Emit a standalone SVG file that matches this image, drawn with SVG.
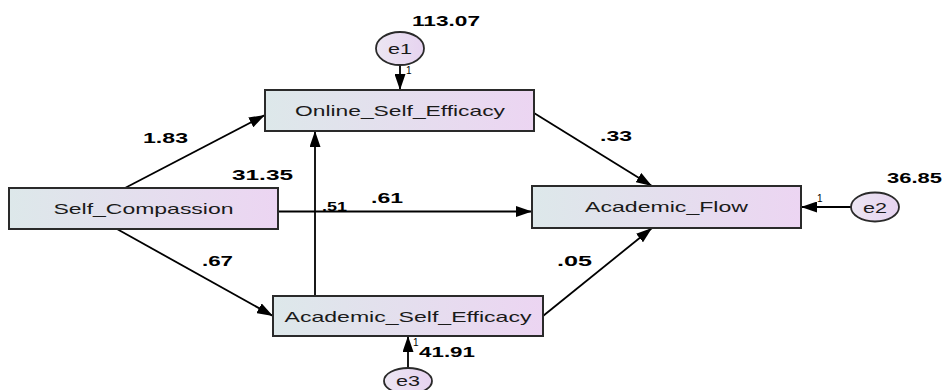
<svg xmlns="http://www.w3.org/2000/svg" width="942" height="390" viewBox="0 0 942 390">
<defs>
<linearGradient id="boxfill" x1="0" y1="0" x2="1" y2="0">
<stop offset="0" stop-color="#dde8ea"/>
<stop offset="1" stop-color="#ecd5f2"/>
</linearGradient>
<linearGradient id="ellfill" x1="0" y1="0" x2="1" y2="0">
<stop offset="0" stop-color="#ece6f2"/>
<stop offset="1" stop-color="#e6d3f0"/>
</linearGradient>
<marker id="arr" markerUnits="userSpaceOnUse" markerWidth="17" markerHeight="11" refX="16" refY="5.5" orient="auto">
<path d="M0,0 L16,5.5 L0,11 z" fill="#000"/>
</marker>
</defs>
<style>
.box{fill:url(#boxfill);stroke:#2a2a2a;stroke-width:2}
.ell{fill:url(#ellfill);stroke:#2a2a2a;stroke-width:1.8}
.lbl{font-family:"Liberation Sans",Arial,sans-serif;font-size:15px;fill:#1a1a1a;text-anchor:middle}
.num{font-family:"Liberation Sans",Arial,sans-serif;font-size:15px;font-weight:bold;fill:#000}
.one{font-family:"Liberation Sans",Arial,sans-serif;font-size:10px;fill:#000}
.c{stroke:#000;stroke-width:1.8;fill:none;marker-end:url(#arr)}
</style>
<g id="connectors">
<line class="c" x1="125" y1="188" x2="265" y2="115"/>
<line class="c" x1="117" y1="229" x2="273" y2="316"/>
<line class="c" x1="278" y1="211.5" x2="532" y2="211.5"/>
<line class="c" x1="315" y1="296" x2="315" y2="131"/>
<line class="c" x1="534" y1="113" x2="652" y2="186"/>
<line class="c" x1="543" y1="316" x2="652" y2="228"/>
<line class="c" x1="400" y1="65" x2="400" y2="90"/>
<line class="c" x1="851" y1="207" x2="801" y2="207"/>
<line class="c" x1="408" y1="368" x2="408" y2="336"/>
<text class="num" x="143" y="143" textLength="45" lengthAdjust="spacingAndGlyphs">1.83</text>
<text class="num" x="600" y="141" textLength="32" lengthAdjust="spacingAndGlyphs">.33</text>
<text class="num" x="371" y="203" textLength="32" lengthAdjust="spacingAndGlyphs">.61</text>
<text class="num" x="322" y="211" style="font-size:13px" textLength="25" lengthAdjust="spacingAndGlyphs">.51</text>
<text class="num" x="202" y="266" textLength="31" lengthAdjust="spacingAndGlyphs">.67</text>
<text class="num" x="557" y="266" textLength="35" lengthAdjust="spacingAndGlyphs">.05</text>
<text class="one" x="406" y="74">1</text>
<text class="one" x="817" y="202">1</text>
<text class="one" x="413" y="346">1</text>
</g>
<g id="Online_Self_Efficacy">
<rect class="box" x="265" y="90" width="269" height="41"/>
<text class="lbl" x="400" y="116" textLength="210" lengthAdjust="spacingAndGlyphs">Online_Self_Efficacy</text>
</g>
<g id="Self_Compassion">
<rect class="box" x="9" y="188" width="269" height="41"/>
<text class="lbl" x="143.5" y="214" textLength="180" lengthAdjust="spacingAndGlyphs">Self_Compassion</text>
<text class="num" x="232" y="180" textLength="61" lengthAdjust="spacingAndGlyphs">31.35</text>
</g>
<g id="Academic_Flow">
<rect class="box" x="532" y="186" width="269" height="42"/>
<text class="lbl" x="666.5" y="212" textLength="163" lengthAdjust="spacingAndGlyphs">Academic_Flow</text>
</g>
<g id="Academic_Self_Efficacy">
<rect class="box" x="273" y="296" width="270" height="40"/>
<text class="lbl" x="408" y="321.5" textLength="247" lengthAdjust="spacingAndGlyphs">Academic_Self_Efficacy</text>
</g>
<g id="e1">
<ellipse class="ell" cx="400" cy="48.5" rx="24" ry="16.5"/>
<text class="lbl" x="400" y="54" textLength="24" lengthAdjust="spacingAndGlyphs">e1</text>
<text class="num" x="412" y="26" textLength="68" lengthAdjust="spacingAndGlyphs">113.07</text>
</g>
<g id="e2">
<ellipse class="ell" cx="875" cy="207" rx="24" ry="14.5"/>
<text class="lbl" x="875" y="212.5" textLength="24" lengthAdjust="spacingAndGlyphs">e2</text>
<text class="num" x="887" y="183" textLength="55" lengthAdjust="spacingAndGlyphs">36.85</text>
</g>
<g id="e3">
<ellipse class="ell" cx="408" cy="381" rx="24" ry="13"/>
<text class="lbl" x="408" y="385.5" textLength="24" lengthAdjust="spacingAndGlyphs">e3</text>
<text class="num" x="419" y="357" textLength="56" lengthAdjust="spacingAndGlyphs">41.91</text>
</g>
</svg>
